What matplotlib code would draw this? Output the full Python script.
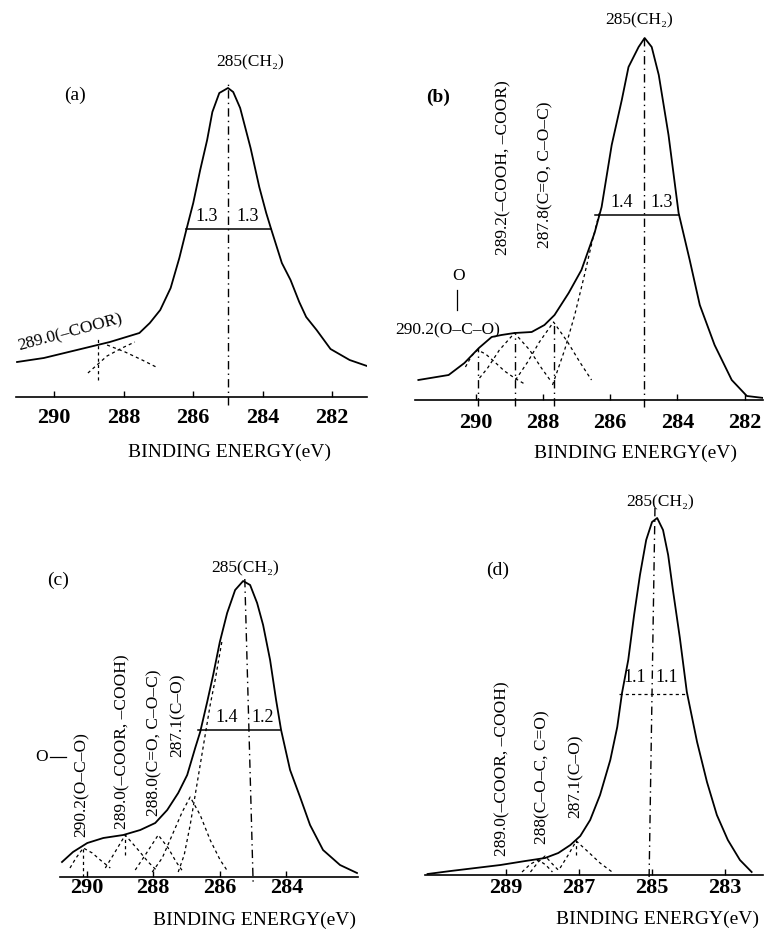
import numpy as np
import matplotlib.pyplot as plt

plt.rcParams['font.family'] = ['Liberation Serif', 'DejaVu Serif']

W, H = 764, 932

# ---- (a) ----
a_energy = [291.07, 290.3, 289.35, 288.4, 287.55, 287.25, 286.95, 286.65, 286.4, 286.2, 286.0,
            285.8, 285.6, 285.45, 285.25, 285.0, 284.85, 284.65, 284.35, 284.1, 283.9, 283.75,
            283.45, 283.2, 282.95, 282.75, 282.45, 282.05, 281.5, 281.0]
a_counts = [35, 39, 47, 55, 64, 74, 87, 109, 139, 167, 194, 227, 257, 285, 304, 309, 305, 289,
            249, 210, 184, 167, 134, 117, 95, 80, 67, 48, 37, 31]
a_comp_rise_e = [289.03, 288.48, 288.05, 287.68]
a_comp_rise_c = [24, 41, 49, 55]
a_comp_fall_e = [288.48, 287.96, 287.47, 287.01]
a_comp_fall_c = [52, 45, 37, 29]
a_fwhm = [286.2, 283.75, 168]

# ---- (b) ----
b_energy = [291.7, 290.8, 290.33, 289.9, 289.52, 289.23, 288.84, 288.33, 287.95, 287.65, 287.23,
            286.85, 286.46, 286.25, 285.95, 285.65, 285.45, 285.15, 284.97, 284.76, 284.55,
            284.26, 283.96, 283.63, 283.33, 282.89, 282.38, 281.93, 281.43]
b_counts = [20, 25, 37, 52, 63, 65, 67, 68, 75, 85, 107, 130, 167, 193, 255, 300, 333, 353, 362,
            353, 325, 265, 187, 140, 95, 55, 20, 4, 2]
b_c1_e = [290.30, 290.12, 289.94, 289.70, 289.43, 289.14, 288.84, 288.54]
b_c1_c = [33, 44, 50, 46, 38, 29, 22, 16]
b_c2_e = [289.88, 289.64, 289.29, 288.84, 288.39, 288.04, 287.74]
b_c2_c = [22, 32, 50, 67, 50, 32, 18]
b_c3_e = [288.81, 288.45, 288.10, 287.68, 287.26, 286.90, 286.55]
b_c3_c = [20, 38, 58, 78, 58, 38, 20]
b_main_e = [287.71, 287.35, 287.05, 286.76, 286.52, 286.31]
b_main_c = [15, 50, 85, 125, 160, 188]
b_fwhm = [286.46, 283.96, 185]

# ---- (c) ----
c_energy = [290.74, 290.41, 289.98, 289.5, 288.9, 288.39, 287.94, 287.58, 287.25, 286.98, 286.74,
            286.59, 286.38, 286.2, 286.0, 285.78, 285.54, 285.3, 285.09, 284.88, 284.7, 284.49,
            284.31, 284.16, 283.89, 283.59, 283.29, 282.9, 282.39, 281.88]
c_counts = [15, 25, 34, 39, 42, 47, 54, 67, 84, 102, 129, 145, 175, 202, 235, 264, 287, 296, 292,
            274, 252, 217, 177, 147, 107, 80, 52, 27, 12, 4]
c_c1_e = [290.5, 290.32, 290.1, 289.83, 289.59, 289.29]
c_c1_c = [9, 19, 29, 24, 17, 9]
c_c2_e = [289.44, 289.2, 288.84, 288.45, 288.15, 287.91]
c_c2_c = [9, 22, 42, 27, 15, 7]
c_c3_e = [288.54, 288.24, 287.85, 287.55, 287.31, 287.1]
c_c3_c = [7, 22, 42, 29, 15, 5]
c_c4_e = [288.03, 287.73, 287.43, 287.13, 286.89, 286.59, 286.29, 285.99, 285.75]
c_c4_c = [5, 19, 42, 65, 80, 62, 37, 17, 5]
c_main_e = [287.25, 287.07, 286.89, 286.74, 286.59, 286.44, 286.29, 286.14, 285.93]
c_main_c = [5, 22, 52, 82, 112, 142, 172, 197, 237]
c_fwhm = [286.65, 284.19, 147]

# ---- (d) ----
d_energy = [291.13, 290.5, 289.82, 289.14, 288.46, 287.92, 287.56, 287.23, 286.96, 286.69, 286.42,
            286.14, 285.95, 285.82, 285.65, 285.49, 285.33, 285.16, 285.0, 284.86, 284.7, 284.56,
            284.43, 284.24, 284.05, 283.77, 283.5, 283.23, 282.93, 282.6, 282.28]
d_counts = [1, 4, 7, 10, 14, 17, 22, 30, 39, 55, 80, 115, 148, 182, 215, 260, 300, 335, 353, 357,
            345, 320, 285, 237, 183, 133, 93, 60, 35, 15, 3]
d_c1_e = [288.55, 288.32, 288.1, 287.9, 287.72]
d_c1_c = [3, 11, 15, 10, 3]
d_c2_e = [288.32, 288.11, 287.92, 287.72, 287.51]
d_c2_c = [3, 13, 19, 11, 3]
d_c3_e = [287.51, 287.29, 287.07, 286.74, 286.42, 286.09]
d_c3_c = [7, 20, 34, 23, 12, 3]
d_fwhm = [285.9, 284.1, 181]

fig = plt.figure(figsize=(W / 100, H / 100), dpi=100)


def panel(left, right, top, bottom, xlim, ticks, pad):
    ax = fig.add_axes([left / W, 1 - bottom / H, (right - left) / W, (bottom - top) / H])
    ax.set_xlim(*xlim)
    ax.set_ylim(0, bottom - top)
    for s in ['left', 'right', 'top']:
        ax.spines[s].set_visible(False)
    ax.spines['bottom'].set_linewidth(1.2)
    ax.set_yticks([])
    ax.set_xticks(ticks)
    ax.tick_params(axis='x', direction='in', length=4, width=1, pad=pad)
    for lab in ax.get_xticklabels():
        lab.set_fontsize(16)
        lab.set_fontweight('bold')
    ax.patch.set_alpha(0)
    return ax


dash = dict(color='black', lw=0.9, ls=(0, (2.5, 2.5)))
dashdot = dict(color='black', lw=1.0, ls=(0, (6, 3, 1, 3)))
env = dict(color='black', lw=1.3)
lab = dict(fontsize=12.5, ha='center', va='center')

# (a)
ax = panel(16, 367, 40, 397, (291.1, 281.0), [290, 288, 286, 284, 282], 8)
ax.plot(a_energy, a_counts, **env)
ax.plot(a_comp_rise_e, a_comp_rise_c, **dash)
ax.plot(a_comp_fall_e, a_comp_fall_c, **dash)
ax.plot([288.75, 288.75], [17, 60], **dash)
ax.plot([285.0, 285.0], [-8, 317], clip_on=False, **dashdot)
ax.plot(a_fwhm[:2], [a_fwhm[2]] * 2, color='black', lw=1.1)
ax.text(285.6, 172, '1.3', fontsize=13, ha='center', va='bottom')
ax.text(284.42, 172, '1.3', fontsize=13, ha='center', va='bottom')
ax.text(284.37, 335, '285(CH₂)', **lab)
ax.text(289.4, 302, '(a)', fontsize=14, ha='center', va='center')
ax.text(289.55, 64, '289.0(–COOR)', rotation=15, **lab)
fig.text(230 / W, 1 - 452 / H, 'BINDING ENERGY(eV)', fontsize=14, ha='center', va='center')

# (b)
ax = panel(415, 763, 10, 400, (291.8, 281.45), [290, 288, 286, 284, 282], 9)
ax.plot(b_energy, b_counts, **env)
for e, c in [(b_c1_e, b_c1_c), (b_c2_e, b_c2_c), (b_c3_e, b_c3_c), (b_main_e, b_main_c)]:
    ax.plot(e, c, **dash)
for e, top in [(289.94, 52), (288.84, 67), (287.68, 78)]:
    ax.plot([e, e], [-6, top], clip_on=False, **dashdot)
ax.plot([285.0, 285.0], [-7, 363], clip_on=False, **dashdot)
ax.plot(b_fwhm[:2], [b_fwhm[2]] * 2, color='black', lw=1.1)
ax.text(285.65, 189, '1.4', fontsize=13, ha='center', va='bottom')
ax.text(284.46, 189, '1.3', fontsize=13, ha='center', va='bottom')
ax.text(285.12, 380, '285(CH₂)', **lab)
ax.text(291.1, 303, '(b)', fontsize=14, fontweight='bold', ha='center', va='center')
ax.text(289.17, 232, '289.2(–COOH, –COOR)', rotation=90, **lab)
ax.text(287.92, 225, '287.8(C=O, C–O–C)', rotation=90, **lab)
ax.text(290.83, 70, '290.2(O–C–O)', clip_on=False, **lab)
ax.text(290.5, 124, 'O', **lab)
ax.plot([290.55, 290.55], [90, 110], color='black', lw=0.9)
fig.text(636 / W, 1 - 453 / H, 'BINDING ENERGY(eV)', fontsize=14, ha='center', va='center')

# (c)
ax = panel(60, 358, 540, 877, (290.8, 281.85), [290, 288, 286, 284], 1)
ax.plot(c_energy, c_counts, **env)
for e, c in [(c_c1_e, c_c1_c), (c_c2_e, c_c2_c), (c_c3_e, c_c3_c), (c_c4_e, c_c4_c),
             (c_main_e, c_main_c)]:
    ax.plot(e, c, **dash)
ax.plot([290.1, 290.1], [0, 29], **dash)
ax.plot([288.84, 288.84], [22, 42], **dash)
ax.plot([285.25, 285.0], [298, -5], clip_on=False, **dashdot)
ax.plot(c_fwhm[:2], [c_fwhm[2]] * 2, color='black', lw=1.1)
ax.text(285.78, 151, '1.4', fontsize=13, ha='center', va='bottom')
ax.text(284.7, 151, '1.2', fontsize=13, ha='center', va='bottom')
ax.text(285.24, 309, '285(CH₂)', **lab)
ax.text(290.86, 297, '(c)', fontsize=14, ha='center', va='center')
ax.text(290.14, 92, '290.2(O–C–O)', rotation=90, **lab)
ax.text(291.36, 120, 'O', clip_on=False, **lab)
ax.plot([291.1, 290.62], [120, 120], color='black', lw=0.9, clip_on=False)
ax.text(288.93, 135, '289.0(–COOR, –COOH)', rotation=90, **lab)
ax.text(287.97, 134, '288.0(C=O, C–O–C)', rotation=90, **lab)
ax.text(287.28, 162, '287.1(C–O)', rotation=90, **lab)
fig.text(255 / W, 1 - 920 / H, 'BINDING ENERGY(eV)', fontsize=14, ha='center', va='center')

# (d)
ax = panel(425, 763, 480, 875, (291.2, 281.97), [289, 287, 285, 283], 2)
ax.plot(d_energy, d_counts, **env)
for e, c in [(d_c1_e, d_c1_c), (d_c2_e, d_c2_c), (d_c3_e, d_c3_c)]:
    ax.plot(e, c, **dash)
ax.plot([287.07, 287.07], [20, 35], **dash)
ax.plot([284.92, 285.08], [367, -2], clip_on=False, **dashdot)
ax.plot(d_fwhm[:2], [d_fwhm[2]] * 2, **dash)
ax.text(285.46, 189, '1.1', fontsize=13, ha='center', va='bottom')
ax.text(284.59, 189, '1.1', fontsize=13, ha='center', va='bottom')
ax.text(284.78, 373, '285(CH₂)', **lab)
ax.text(289.22, 305, '(d)', fontsize=14, ha='center', va='center')
ax.text(289.09, 106, '289.0(–COOR, –COOH)', rotation=90, **lab)
ax.text(288.0, 98, '288(C–O–C, C=O)', rotation=90, **lab)
ax.text(287.1, 99, '287.1(C–O)', rotation=90, **lab)
fig.text(657 / W, 1 - 919 / H, 'BINDING ENERGY(eV)', fontsize=14, ha='center', va='center')

fig.savefig('out.png', dpi=100)
